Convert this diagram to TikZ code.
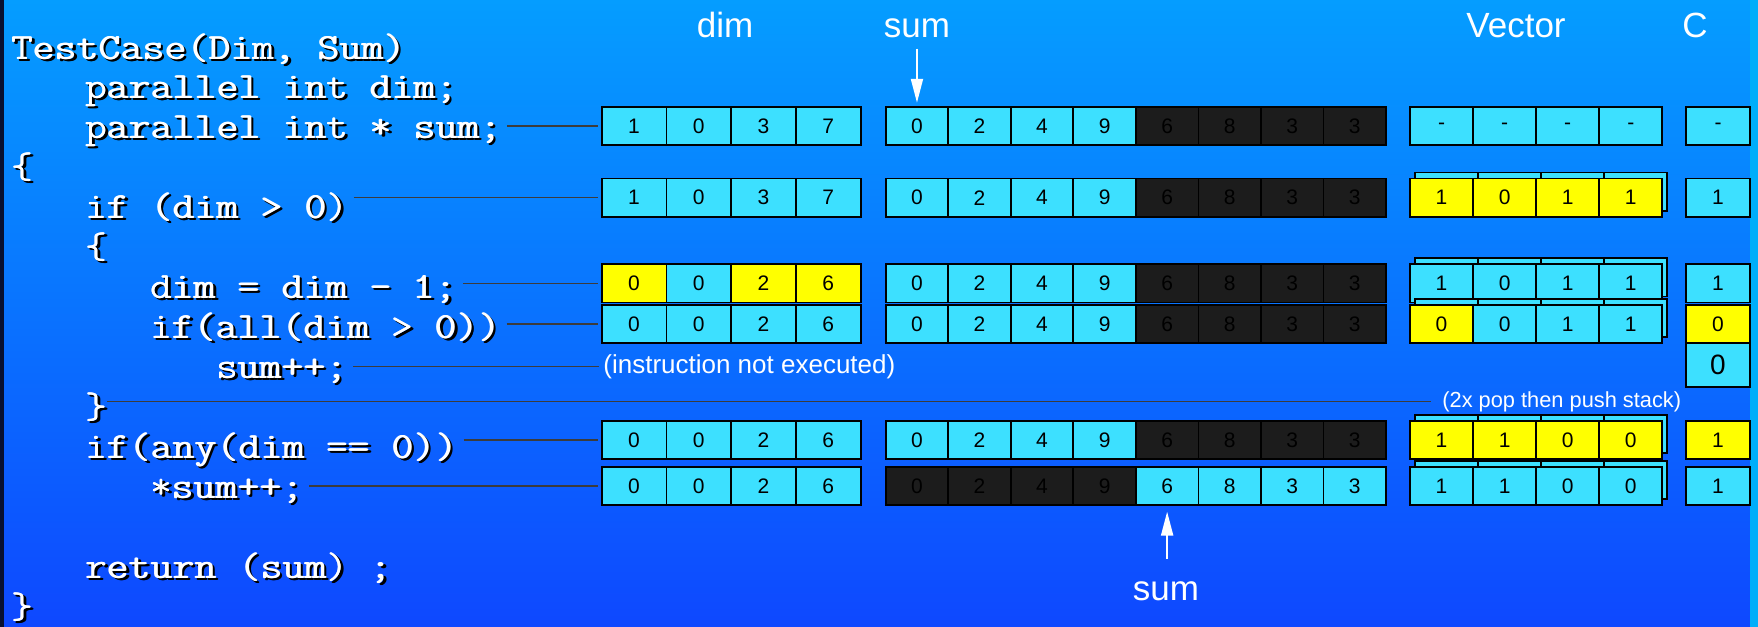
\documentclass[tikz,border=0pt]{standalone}
\usepackage{fontspec}
\usepackage{graphicx}
\setmainfont{Liberation Sans}
\usetikzlibrary{arrows.meta}

\definecolor{cellcyan}{RGB}{61,224,255}
\definecolor{cellyel}{RGB}{255,255,0}
\definecolor{celldark}{RGB}{28,28,28}
\definecolor{bgtop}{RGB}{5,157,255}
\definecolor{bgbot}{RGB}{14,72,255}
\definecolor{connc}{RGB}{60,60,60}
\definecolor{edgeL}{RGB}{8,16,48}
\definecolor{edgeR}{RGB}{0,174,250}

\tikzset{
  cellbox/.style={draw=black, line width=0.85pt, inner sep=0pt, outer sep=0pt,
    minimum height=19.15pt, font=\fontsize{10.5}{12}\selectfont, text=black},
  conn/.style={draw=connc, line width=0.75pt, shorten <=3pt, shorten >=2pt},
  codetxt/.style={anchor=base west, inner sep=0pt, outer sep=0pt,
    font=\ttfamily\fontsize{18.5}{20}\selectfont},
  lbl/.style={text=white, font=\fontsize{17.5}{20}\selectfont, inner sep=0pt},
  ptr/.style={draw=white, line width=1pt, -{Triangle[length=12pt,width=6pt]}},
}

\newcommand\cellrow[5]{%
  \foreach \cc/\vv [count=\i] in {#5} {
    \node[cellbox, fill=\cc, minimum width=#3*0.5pt] (#1-\i) at ({#2+(\i-0.5)*#3}, #4) {\vv};
  }%
}
% white code text with a black drop shadow (one node per line)
\newcommand\shtext[1]{\scalebox{1.15}[1]{%
  \makebox[0pt][l]{\hspace{1pt}\raisebox{-1pt}{\color{black}#1}}%
  \makebox[0pt][l]{\hspace{1.4pt}\raisebox{-1pt}{\color{black}#1}}%
  \makebox[0pt][l]{\hspace{0.4pt}\color{white}#1}%
  \textcolor{white}{#1}}}
\newcommand\codeln[4]{%
  \node[codetxt] (#1) at (#2, #3) {\shtext{#4}};
}

\begin{document}
\begin{tikzpicture}[x=0.5pt, y=-0.5pt]
% background
\shade[top color=bgtop, bottom color=bgbot] (0,0) rectangle (1758,627);
\fill[edgeL] (0,0) rectangle (4,627);
\fill[edgeR] (1750,0) rectangle (1758,627);
\useasboundingbox (0,0) rectangle (1758,627);

% code
\codeln{cl1}{11}{59}{TestCase(Dim, Sum)}
\codeln{cl2}{85}{98.9}{parallel int dim;}
\codeln{cl3}{85}{138.9}{parallel int * sum;}
\codeln{cl4}{11}{178.8}{\{}
\codeln{cl5}{85}{218.7}{if (dim > 0)}
\codeln{cl6}{85}{258.7}{\{}
\codeln{cl7}{150}{298.6}{dim = dim - 1;}
\codeln{cl8}{150}{338.5}{if(all(dim > 0))}
\codeln{cl9}{216}{378.4}{sum++;}
\codeln{cl10}{85}{418.4}{\}}
\codeln{cl11}{85}{458.3}{if(any(dim == 0))}
\codeln{cl12}{150}{498.2}{*sum++;}
\codeln{cl14}{85}{578.1}{return (sum) ;}
\codeln{cl15}{11}{618}{\}}

% headers
\node[lbl, anchor=base] (hdim) at (725,37) {dim};
\node[lbl, anchor=base] (hsum) at (917,37) {sum};
\node[lbl, anchor=base] (hvec) at (1516,37) {Vector};
\node[lbl, anchor=base] (hc) at (1695,37) {C};

% row 1
\cellrow{d1}{601.7}{64.75}{125.9}{cellcyan/1,cellcyan/0,cellcyan/3,cellcyan/7}
\cellrow{s1}{885.7}{62.54}{125.9}{cellcyan/0,cellcyan/2,cellcyan/4,cellcyan/9,celldark/6,celldark/8,celldark/3,celldark/3}
\cellrow{v1}{1410}{63.08}{125.9}{cellcyan/-,cellcyan/-,cellcyan/-,cellcyan/-}
\cellrow{c1}{1686}{64}{125.9}{cellcyan/-}

% row 2
\cellrow{d2}{601.7}{64.75}{197.7}{cellcyan/1,cellcyan/0,cellcyan/3,cellcyan/7}
\cellrow{s2}{885.7}{62.54}{197.7}{cellcyan/0,cellcyan/2,cellcyan/4,cellcyan/9,celldark/6,celldark/8,celldark/3,celldark/3}
\cellrow{vs2}{1415}{63.08}{191.7}{cellcyan/{},cellcyan/{},cellcyan/{},cellcyan/{}}
\cellrow{v2}{1410}{63.08}{197.7}{cellyel/1,cellyel/0,cellyel/1,cellyel/1}
\cellrow{c2}{1686}{64}{197.7}{cellcyan/1}

% row 3
\cellrow{d3}{601.7}{64.75}{283.3}{cellyel/0,cellcyan/0,cellyel/2,cellyel/6}
\cellrow{s3}{885.7}{62.54}{283.3}{cellcyan/0,cellcyan/2,cellcyan/4,cellcyan/9,celldark/6,celldark/8,celldark/3,celldark/3}
\cellrow{vs3}{1415}{63.08}{277.3}{cellcyan/{},cellcyan/{},cellcyan/{},cellcyan/{}}
\cellrow{v3}{1410}{63.08}{283.3}{cellcyan/1,cellcyan/0,cellcyan/1,cellcyan/1}
\cellrow{c3}{1686}{64}{283.3}{cellcyan/1}

% row 4
\cellrow{d4}{601.7}{64.75}{324.1}{cellcyan/0,cellcyan/0,cellcyan/2,cellcyan/6}
\cellrow{s4}{885.7}{62.54}{324.1}{cellcyan/0,cellcyan/2,cellcyan/4,cellcyan/9,celldark/6,celldark/8,celldark/3,celldark/3}
\cellrow{vs4}{1415}{63.08}{318.1}{cellcyan/{},cellcyan/{},cellcyan/{},cellcyan/{}}
\cellrow{v4}{1410}{63.08}{324.1}{cellyel/0,cellcyan/0,cellcyan/1,cellcyan/1}
\cellrow{c4}{1686}{64}{324.1}{cellyel/0}
\node[cellbox, fill=cellcyan, minimum width=32pt, minimum height=22.3pt,
  font=\fontsize{14}{16}\selectfont] (c4x) at (1718,365) {0};

% row 5 / 6 texts
\node[anchor=west, inner sep=0pt, text=white, font=\fontsize{13}{15}\selectfont] (noexec) at (603,366.5) {(instruction not executed)};
\node[anchor=west, inner sep=0pt, text=white, font=\fontsize{10.9}{13}\selectfont] (pop) at (1442,401.5) {(2x pop then push stack)};

% row 7
\cellrow{d7}{601.7}{64.75}{439.9}{cellcyan/0,cellcyan/0,cellcyan/2,cellcyan/6}
\cellrow{s7}{885.7}{62.54}{439.9}{cellcyan/0,cellcyan/2,cellcyan/4,cellcyan/9,celldark/6,celldark/8,celldark/3,celldark/3}
\cellrow{vs7}{1415}{63.08}{433.9}{cellcyan/{},cellcyan/{},cellcyan/{},cellcyan/{}}
\cellrow{v7}{1410}{63.08}{439.9}{cellyel/1,cellyel/1,cellyel/0,cellyel/0}
\cellrow{c7}{1686}{64}{439.9}{cellyel/1}

% row 8
\cellrow{d8}{601.7}{64.75}{485.9}{cellcyan/0,cellcyan/0,cellcyan/2,cellcyan/6}
\cellrow{s8}{885.7}{62.54}{485.9}{celldark/0,celldark/2,celldark/4,celldark/9,cellcyan/6,cellcyan/8,cellcyan/3,cellcyan/3}
\cellrow{vs8}{1415}{63.08}{479.9}{cellcyan/{},cellcyan/{},cellcyan/{},cellcyan/{}}
\cellrow{v8}{1410}{63.08}{485.9}{cellcyan/1,cellcyan/1,cellcyan/0,cellcyan/0}
\cellrow{c8}{1686}{64}{485.9}{cellcyan/1}

\node[lbl, anchor=base] (bsum) at (1166,600) {sum};

% connectors
\draw[conn] (cl3.east |- d1-1.west) -- (d1-1.west);
\draw[conn] (cl5.east |- d2-1.west) -- (d2-1.west);
\draw[conn] (cl7.east |- d3-1.west) -- (d3-1.west);
\draw[conn] (cl8.east |- d4-1.west) -- (d4-1.west);
\draw[conn] (cl9.east |- noexec.west) -- (noexec.west);
\draw[conn, shorten <=0pt, shorten >=5.5pt] (cl10.east |- pop.west) -- (pop.west);
\draw[conn] (cl11.east |- d7-1.west) -- (d7-1.west);
\draw[conn] (cl12.east |- d8-1.west) -- (d8-1.west);

% pointers
\draw[ptr, shorten <=5.5pt, shorten >=2pt] (s1-1.north |- hsum.south) -- (s1-1.north);
\draw[ptr, shorten <=11pt, shorten >=3.3pt] (s8-5.south |- bsum.north) -- (s8-5.south);
\end{tikzpicture}
\end{document}
